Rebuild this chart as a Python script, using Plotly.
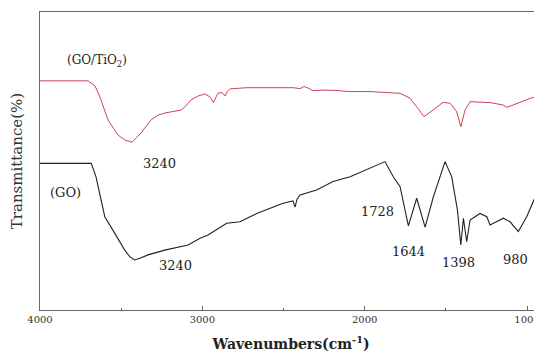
import plotly.graph_objects as go

# FTIR spectra (wavenumber cm-1, transmittance in arbitrary %)
go_tio2_wn = [4000, 3704, 3661, 3632, 3581, 3520, 3476, 3433, 3378, 3316, 3273, 3232, 3131, 3101,
              3070, 3027, 2985, 2953, 2932, 2916, 2904, 2879, 2860, 2848, 2830, 2727, 2442, 2398,
              2374, 2349, 2318, 2257, 2183, 2090, 1967, 1782, 1721, 1680, 1635, 1579, 1517, 1474,
              1433, 1408, 1382, 1351, 1228, 1148, 1125, 1086, 982, 908]
go_tio2_t = [76.9, 76.9, 75.2, 71.6, 63.8, 58.7, 57.0, 56.3, 59.4, 63.8, 65.4, 66.1, 67.1, 68.5,
             70.5, 71.8, 72.5, 71.5, 69.6, 71.8, 72.8, 73.0, 71.8, 73.2, 74.2, 74.6, 74.6, 74.3,
             75.0, 74.5, 73.6, 73.8, 73.7, 73.3, 73.3, 72.7, 71.1, 68.2, 64.9, 67.1, 69.7, 69.4,
             66.5, 61.5, 67.1, 69.9, 69.6, 68.8, 68.0, 68.8, 71.0, 72.1]

go_wn = [4000, 3815, 3684, 3655, 3624, 3601, 3540, 3478, 3446, 3417, 3384, 3335, 3232, 3088,
         3014, 2965, 2850, 2768, 2665, 2503, 2442, 2429, 2417, 2398, 2296, 2195, 2090, 1967,
         1875, 1824, 1782, 1731, 1680, 1628, 1577, 1505, 1464, 1429, 1408, 1392, 1372, 1351,
         1290, 1248, 1228, 1146, 1105, 1054, 1002, 940, 908]
go_t = [49.2, 49.2, 49.2, 44.7, 36.9, 31.3, 25.8, 20.1, 17.8, 16.8, 17.4, 18.5, 20.1, 21.8,
        24.1, 25.2, 29.1, 29.6, 32.4, 35.8, 36.6, 34.5, 37.2, 38.6, 40.3, 43.1, 44.7, 47.6,
        49.8, 44.7, 41.4, 28.2, 37.5, 27.8, 38.0, 49.8, 44.7, 33.6, 21.8, 30.8, 22.9, 30.2,
        32.4, 31.3, 28.5, 30.8, 29.6, 26.3, 31.3, 39.2, 46.4]

# Text labels on the chart
label_text = ["(GO/TiO<sub>2</sub>)", "3240", "(GO)", "3240", "1728", "1644", "1398", "980"]
label_wn = [3650, 3263, 3840, 3168, 1924, 1733, 1425, 1074]
label_t = [83.6, 49.0, 39.3, 14.8, 32.9, 19.5, 16.1, 16.8]
label_size = [12, 13, 13, 13, 13, 13, 13, 13]

x_tick_vals = [4000, 3000, 2000, 1000]
x_tick_text = ["4000", "3000", "2000", "1000"]

fig = go.Figure()
fig.add_trace(go.Scatter(x=go_tio2_wn, y=go_tio2_t, mode="lines",
                         line=dict(color="#cc4455", width=1), name="GO/TiO2", showlegend=False))
fig.add_trace(go.Scatter(x=go_wn, y=go_t, mode="lines",
                         line=dict(color="#222222", width=1.1), name="GO", showlegend=False))

for txt, xw, yt, sz in zip(label_text, label_wn, label_t, label_size):
    fig.add_annotation(x=xw, y=yt, text=txt, showarrow=False,
                       font=dict(family="DejaVu Serif", size=sz, color="#222222"))

# page body has an 8px default margin, so the figure is sized to fit the window from (8, 8)
fig.update_layout(
    width=534, height=344,
    margin=dict(l=32, r=0, t=4, b=42),
    paper_bgcolor="white", plot_bgcolor="white",
    font=dict(family="DejaVu Serif", color="#222222"),
)
fig.update_xaxes(
    range=[4000, 908], showgrid=False, zeroline=False, automargin=False,
    showline=True, linecolor="#666666", linewidth=1, mirror=True,
    tickmode="array", tickvals=x_tick_vals, ticktext=x_tick_text,
    ticks="inside", ticklen=4, tickcolor="#666666",
    tickfont=dict(family="DejaVu Serif", size=10, color="#333333"),
    minor=dict(tickvals=[3500, 2500, 1500], ticks="inside", ticklen=2, tickcolor="#666666"),
    title=dict(text="<b>Wavenumbers(cm<sup>-1</sup>)</b>", standoff=15,
               font=dict(family="DejaVu Serif", size=14, color="#222222")),
)
fig.update_yaxes(
    range=[0, 100], showgrid=False, zeroline=False, automargin=False,
    showline=True, linecolor="#666666", linewidth=1,
    showticklabels=False, ticks="",
    title=dict(text="Transmittance(%)", standoff=16,
               font=dict(family="DejaVu Serif", size=15, color="#333333")),
)

fig.write_html("out.html")
